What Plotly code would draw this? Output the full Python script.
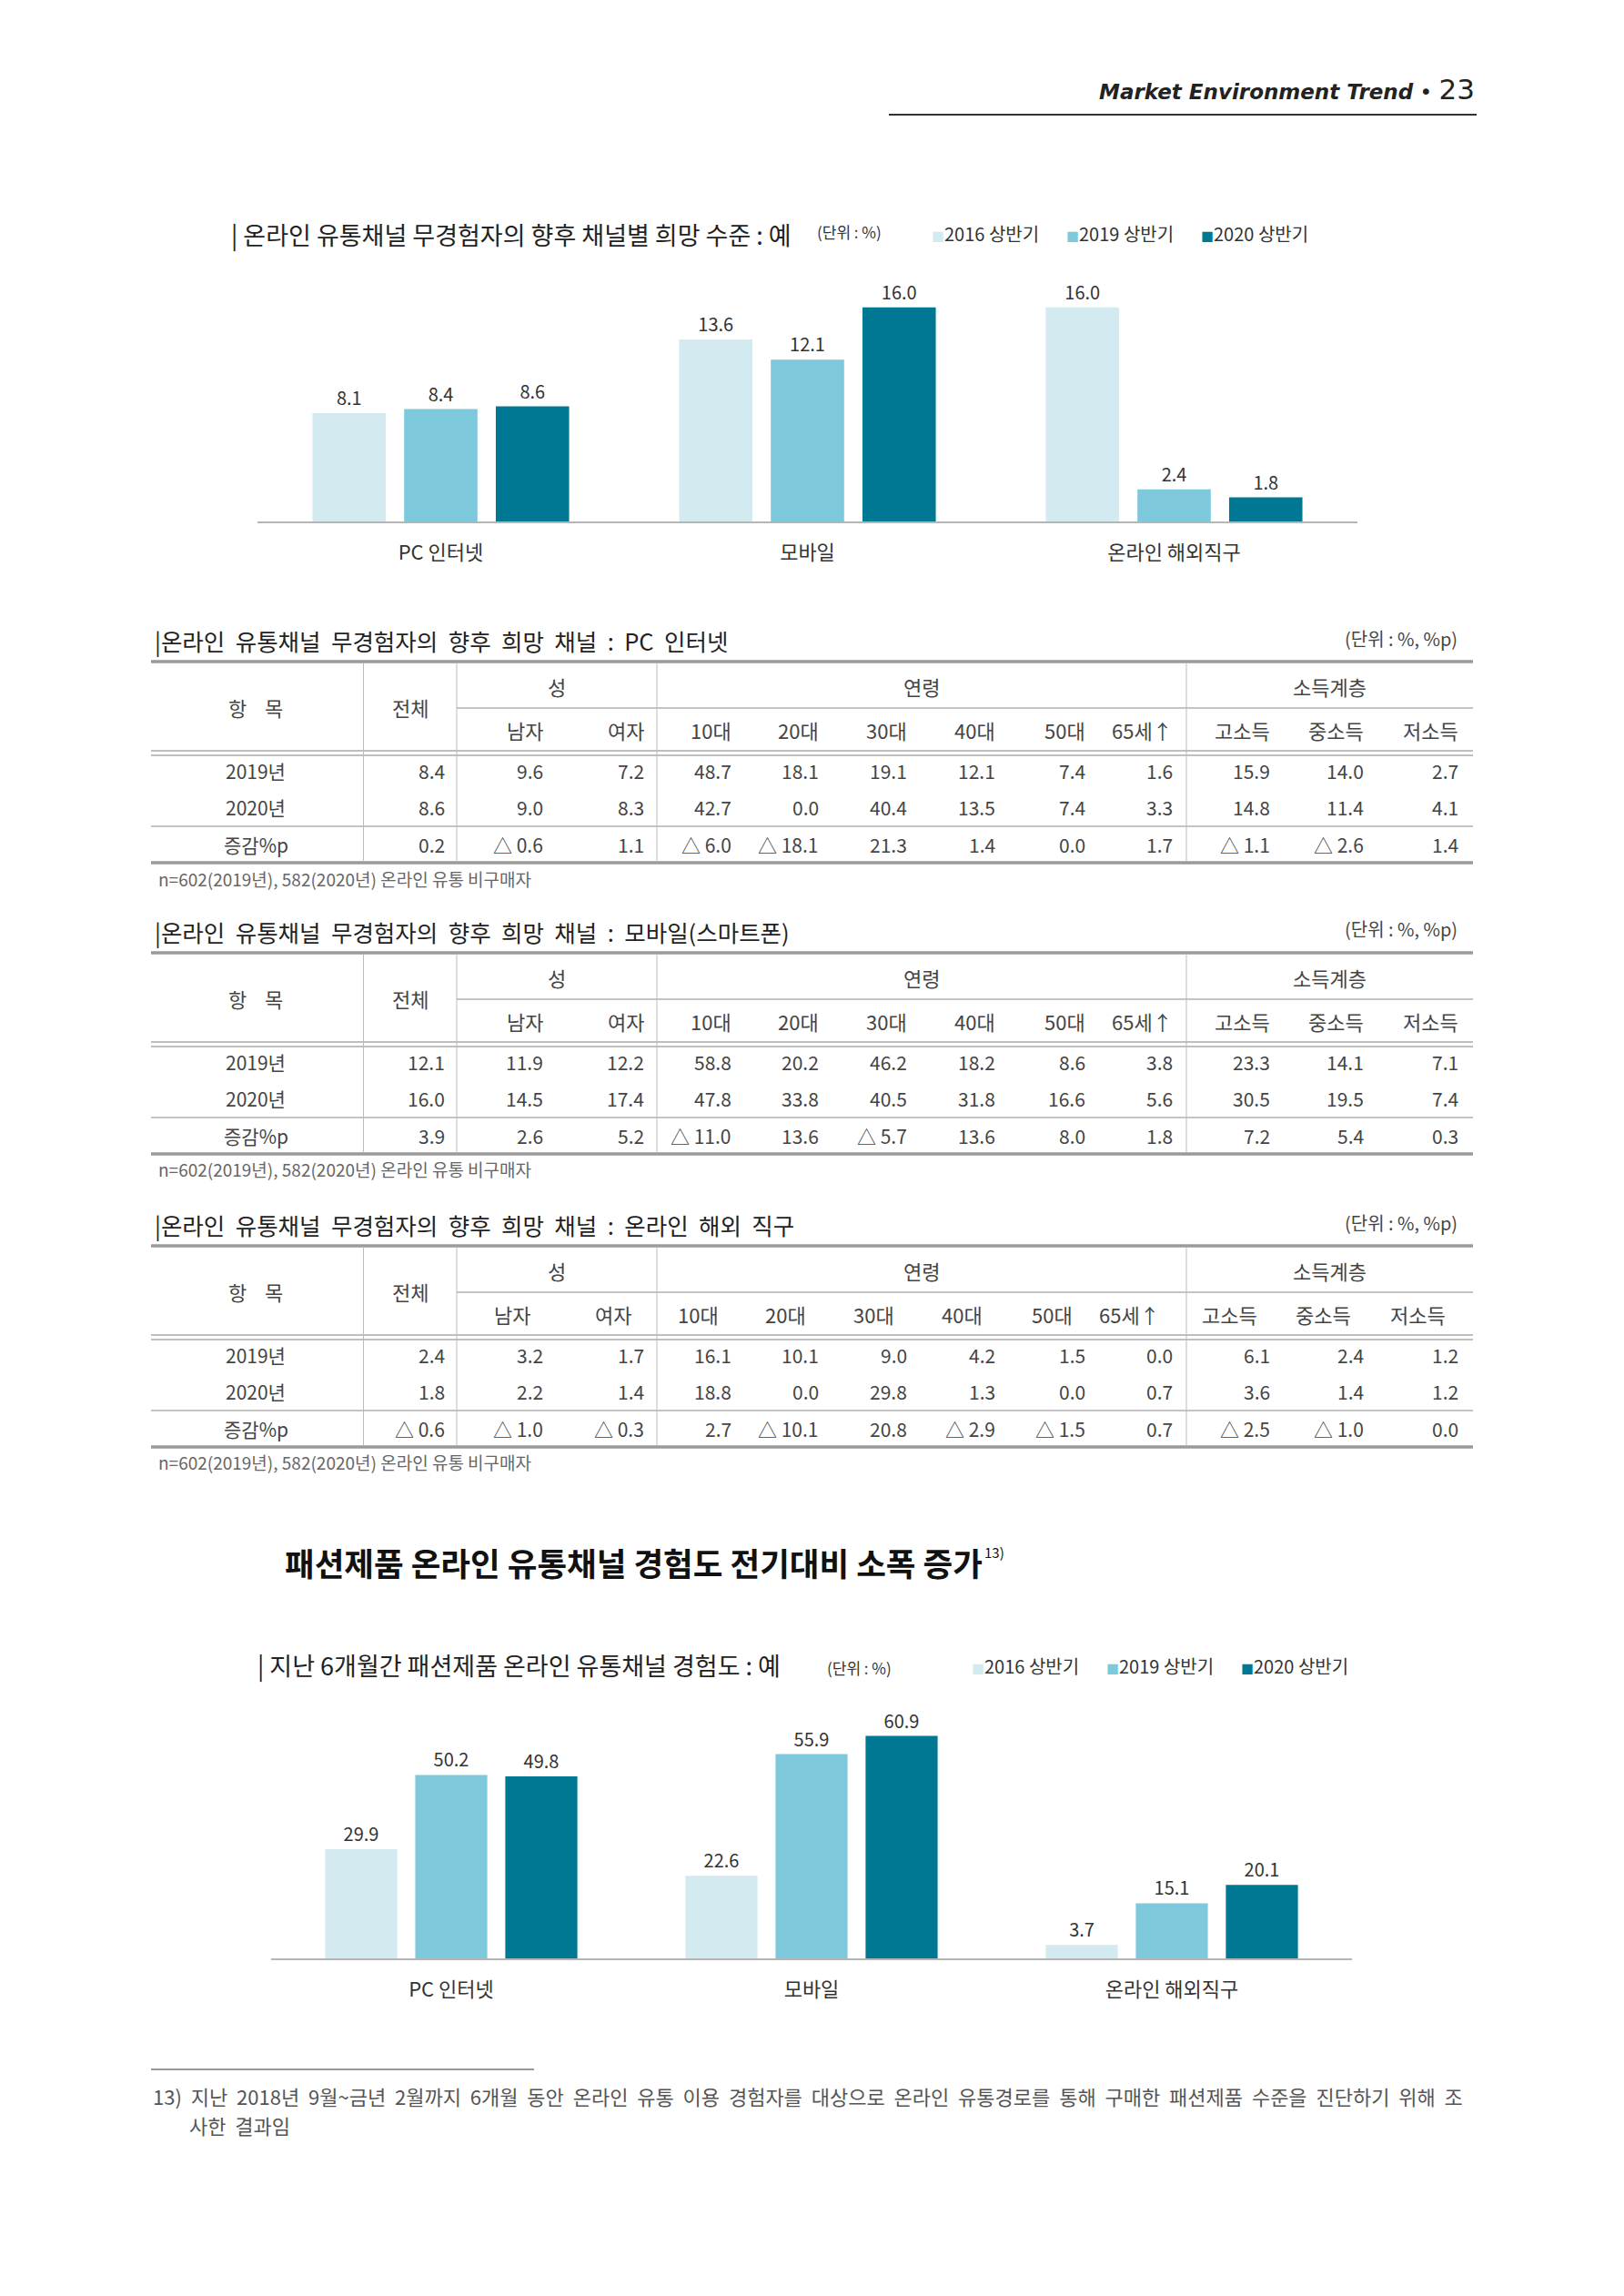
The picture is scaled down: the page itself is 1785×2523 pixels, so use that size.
import plotly.graph_objects as go

W, H = 1785, 2523
FONT = "Noto Sans CJK KR"
NB = "\u00a0"

# ---------------- chart data ----------------
channels = ["PC 인터넷", "모바일", "온라인 해외직구"]
periods = ["2016 상반기", "2019 상반기", "2020 상반기"]
period_colors = ["#d3eaf1", "#7ec8dc", "#007893"]

hope_2016 = [8.1, 13.6, 16.0]
hope_2019 = [8.4, 12.1, 2.4]
hope_2020 = [8.6, 16.0, 1.8]

exp_2016 = [29.9, 22.6, 3.7]
exp_2019 = [50.2, 55.9, 15.1]
exp_2020 = [49.8, 60.9, 20.1]

# ---------------- table data ----------------
col_groups = ["성", "연령", "소득계층"]
sub_cols = ["남자", "여자", "10대", "20대", "30대", "40대", "50대", "65세↑", "고소득", "중소득", "저소득"]
row_labels = ["2019년", "2020년", "증감%p"]

pc_2019 = [8.4, 9.6, 7.2, 48.7, 18.1, 19.1, 12.1, 7.4, 1.6, 15.9, 14.0, 2.7]
pc_2020 = [8.6, 9.0, 8.3, 42.7, 0.0, 40.4, 13.5, 7.4, 3.3, 14.8, 11.4, 4.1]
pc_diff = [0.2, -0.6, 1.1, -6.0, -18.1, 21.3, 1.4, 0.0, 1.7, -1.1, -2.6, 1.4]

mo_2019 = [12.1, 11.9, 12.2, 58.8, 20.2, 46.2, 18.2, 8.6, 3.8, 23.3, 14.1, 7.1]
mo_2020 = [16.0, 14.5, 17.4, 47.8, 33.8, 40.5, 31.8, 16.6, 5.6, 30.5, 19.5, 7.4]
mo_diff = [3.9, 2.6, 5.2, -11.0, 13.6, -5.7, 13.6, 8.0, 1.8, 7.2, 5.4, 0.3]

os_2019 = [2.4, 3.2, 1.7, 16.1, 10.1, 9.0, 4.2, 1.5, 0.0, 6.1, 2.4, 1.2]
os_2020 = [1.8, 2.2, 1.4, 18.8, 0.0, 29.8, 1.3, 0.0, 0.7, 3.6, 1.4, 1.2]
os_diff = [-0.6, -1.0, -0.3, 2.7, -10.1, 20.8, -2.9, -1.5, 0.7, -2.5, -1.0, 0.0]

table_titles = [
    "|온라인 유통채널 무경험자의 향후 희망 채널 : PC 인터넷",
    "|온라인 유통채널 무경험자의 향후 희망 채널 : 모바일(스마트폰)",
    "|온라인 유통채널 무경험자의 향후 희망 채널 : 온라인 해외 직구",
]
table_note = "n=602(2019년), 582(2020년) 온라인 유통 비구매자"
unit_note = "(단위 : %, %p)"

fig = go.Figure()


def px(x):
    return x / W


def py(y):
    return 1 - y / H


def wide(s):
    return s.replace(" ", NB + " ")


def ann(x, y, text, size=20, color="#555", xanchor="left", yanchor="middle", family=FONT, **kw):
    fig.add_annotation(x=px(x), y=py(y), xref="paper", yref="paper", text=text,
                       showarrow=False, xanchor=xanchor, yanchor=yanchor,
                       font=dict(family=family, size=size, color=color), **kw)


def hline(x0, x1, y, color="#aaa", width=1.5):
    fig.add_shape(type="line", xref="paper", yref="paper", x0=px(x0), x1=px(x1),
                  y0=py(y), y1=py(y), line=dict(color=color, width=width))


def vline(x, y0, y1, color="#bbb", width=1):
    fig.add_shape(type="line", xref="paper", yref="paper", x0=px(x), x1=px(x),
                  y0=py(y0), y1=py(y1), line=dict(color=color, width=width))


def fmt(v):
    return f"△ {abs(v):.1f}" if v < 0 else f"{v:.1f}"


# ---------------- page header ----------------
ann(1623, 98, "<b><i>Market Environment Trend</i></b> • <span style='font-size:31px'>23</span>",
    size=23, color="#222", xanchor="right", family="DejaVu Sans")
hline(977, 1623, 126, color="#333", width=2)

# ---------------- bar charts ----------------
def bar_chart(xa, ya, series, title, tx, ty, unit_x, unit_y, leg_x, leg_y):
    for name, vals, col in zip(periods, series, period_colors):
        fig.add_trace(go.Bar(
            x=channels, y=vals, name=name, marker=dict(color=col, line=dict(width=0)),
            text=[f"{v:.1f}" for v in vals], textposition="outside", cliponaxis=False,
            outsidetextfont=dict(family=FONT, size=20, color="#333"),
            xaxis=xa, yaxis=ya, showlegend=False, hoverinfo="skip"))
    ann(tx, ty, title, size=27, color="#222")
    ann(unit_x, unit_y, "(단위 : %)", size=17, color="#333")
    for i, (name, col) in enumerate(zip(periods, period_colors)):
        ann(leg_x + i * 148, leg_y,
            f"<span style='color:{col};font-size:14px'>■</span>{name}", size=20, color="#333")


bar_chart("x", "y", [hope_2016, hope_2019, hope_2020],
          "| 온라인 유통채널 무경험자의 향후 채널별 희망 수준 : 예",
          252, 258, 896, 254, 1022, 257)
bar_chart("x2", "y2", [exp_2016, exp_2019, exp_2020],
          "| 지난 6개월간 패션제품 온라인 유통채널 경험도 : 예",
          281, 1829, 907, 1832, 1066, 1830)

axis_x = dict(type="category", range=[-0.5, 2.5], showline=True, linecolor="#b5b5b5",
              linewidth=1.5, ticks="", showgrid=False, zeroline=False, fixedrange=True,
              tickfont=dict(family=FONT, size=22, color="#333"), ticklabelstandoff=14)
axis_y = dict(visible=False, showgrid=False, zeroline=False, fixedrange=True)

fig.update_layout(
    xaxis=dict(axis_x, domain=[px(283), px(1492)], anchor="y"),
    yaxis=dict(axis_y, domain=[py(573), py(279)], range=[0, 20], anchor="x"),
    xaxis2=dict(axis_x, domain=[px(298), px(1486)], anchor="y2"),
    yaxis2=dict(axis_y, domain=[py(2152), py(1871)], range=[0, 70], anchor="x2"),
)

# ---------------- tables ----------------
T_LEFT, T_RIGHT = 166, 1619
V_LINES = [399.5, 502, 722, 1304]
DATA_RIGHT = [491, 599, 710, 806, 902, 999, 1096, 1195, 1291, 1398, 1501, 1605]
LABEL_CX = 281


def draw_table(T, title, rows, hshift):
    ann(T_LEFT + 2, T - 24, wide(title), size=25.5, color="#222")
    ann(1604, T - 26, unit_note, size=20, color="#444", xanchor="right")
    hline(T_LEFT, T_RIGHT, T, color="#9a9a9a", width=3.5)
    hline(V_LINES[1], T_RIGHT, T + 51, color="#b0b0b0", width=1.5)
    hline(T_LEFT, T_RIGHT, T + 98, color="#aaa", width=1.5)
    hline(T_LEFT, T_RIGHT, T + 103, color="#aaa", width=1.5)
    hline(T_LEFT, T_RIGHT, T + 181, color="#b0b0b0", width=1.5)
    hline(T_LEFT, T_RIGHT, T + 221, color="#9a9a9a", width=3.5)
    for xv in V_LINES:
        vline(xv, T + 1, T + 220)
    # header
    ann(LABEL_CX, T + 50, "항" + NB * 4 + "목", size=22, color="#444", xanchor="center")
    ann((V_LINES[0] + V_LINES[1]) / 2, T + 50, "전체", size=22, color="#444", xanchor="center")
    spans = [(V_LINES[1], V_LINES[2]), (V_LINES[2], V_LINES[3]), (V_LINES[3], T_RIGHT)]
    for g, (a, b) in zip(col_groups, spans):
        ann((a + b) / 2, T + 27, g, size=22, color="#444", xanchor="center")
    for c, xr in zip(sub_cols, DATA_RIGHT[1:]):
        ann(xr + hshift, T + 75, c, size=22, color="#444", xanchor="right")
    # body
    for lab, vals, yy in zip(row_labels, rows, [T + 120, T + 160, T + 201]):
        ann(LABEL_CX, yy, lab, size=21, color="#444", xanchor="center")
        for v, xr in zip(vals, DATA_RIGHT):
            ann(xr, yy, fmt(v), size=21, color="#444", xanchor="right")
    ann(T_LEFT + 6, T + 238, table_note, size=19, color="#666")


draw_table(727, table_titles[0], [pc_2019, pc_2020, pc_diff], 0)
draw_table(1047, table_titles[1], [mo_2019, mo_2020, mo_diff], 0)
draw_table(1369, table_titles[2], [os_2019, os_2020, os_diff], -14)

# ---------------- section heading ----------------
ann(311, 1716, "<b>패션제품 온라인 유통채널 경험도 전기대비 소폭 증가</b>", size=35.5, color="#111")
ann(1080, 1705, "13)", size=15, color="#111")

# ---------------- footnote ----------------
hline(166, 587, 2274, color="#333", width=1.2)
ann(166, 2303, wide("13) 지난 2018년 9월~금년 2월까지 6개월 동안 온라인 유통 이용 경험자를 대상으로 "
    "온라인 유통경로를 통해 구매한 패션제품 수준을 진단하기 위해 조"), size=22, color="#555")
ann(206, 2335, wide("사한 결과임"), size=22, color="#555")

fig.update_layout(
    width=W, height=H, autosize=False,
    margin=dict(l=0, r=0, t=0, b=0),
    paper_bgcolor="white", plot_bgcolor="white",
    barmode="group", bargap=0.25, bargroupgap=0.2,
    font=dict(family=FONT, color="#333"),
    showlegend=False,
)

fig.write_html("out.html")
